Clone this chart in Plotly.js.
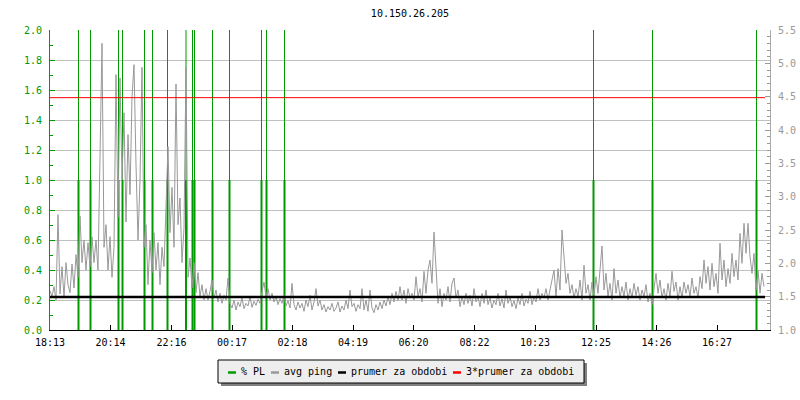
<!DOCTYPE html>
<html><head><meta charset="utf-8">
<script src="https://cdn.plot.ly/plotly-3.0.1.min.js"></script>
<style>html,body{margin:0;padding:0;background:#fff}#chart{width:800px;height:400px}</style>
</head><body><div id="chart"></div>
<script>
const chartTitle = '10.150.26.205';
const seriesNames = ['% PL', 'avg ping', 'prumer za obdobi', '3*prumer za obdobi'];
const seriesColors = ['#009900', '#999999', '#000000', '#ff0000'];
const tickLabels = ['18:13','20:14','22:16','00:17','02:18','04:19','06:20','08:22','10:23','12:25','14:26','16:27'];
const startTime = Date.UTC(2024, 0, 1, 18, 13);
const rangeMinutes = 1440;
const dataMinutes = 1430;
const pingStepMinutes = 4;
const pingValues = [
1.59,1.50,1.65,1.45,2.73,1.54,1.95,1.50,2.01,1.68,
1.56,1.99,1.63,2.13,1.79,2.71,2.01,2.35,1.90,2.31,
1.95,2.40,2.01,2.35,1.90,3.88,5.30,2.24,2.58,1.90,
2.40,1.79,2.24,4.83,2.69,4.78,3.25,4.26,2.62,3.93,
3.03,4.49,4.98,3.48,2.35,3.25,4.94,2.24,2.58,1.68,
2.35,1.86,2.46,1.90,2.31,1.68,2.24,1.95,3.03,3.75,
2.46,3.14,2.24,4.69,2.58,2.98,2.01,2.53,4.94,1.79,
2.08,1.63,2.01,1.56,1.86,1.50,1.68,1.45,1.62,1.45,
1.58,1.75,1.48,1.60,1.42,1.55,1.40,1.52,1.45,1.78,
1.40,1.33,1.45,1.30,1.42,1.35,1.48,1.32,1.40,1.36,
1.50,1.34,1.43,1.37,1.46,1.40,1.58,1.72,1.50,1.62,
1.45,1.55,1.42,1.50,1.38,1.47,1.40,1.52,1.36,1.44,
1.33,1.70,1.38,1.30,1.42,1.33,1.40,1.28,1.45,1.35,
1.52,1.30,1.42,1.62,1.36,1.45,1.30,1.38,1.27,1.35,
1.30,1.40,1.28,1.33,1.42,1.27,1.36,1.30,1.45,1.32,
1.60,1.35,1.40,1.28,1.38,1.32,1.62,1.30,1.45,1.28,
1.60,1.33,1.26,1.38,1.30,1.42,1.32,1.45,1.36,1.50,
1.38,1.55,1.42,1.58,1.44,1.65,1.45,1.60,1.40,1.62,
1.48,1.55,1.45,1.80,1.50,1.62,1.42,1.88,1.55,1.90,
2.05,1.70,2.47,1.95,1.40,1.62,1.35,1.55,1.45,1.65,
1.42,1.70,1.78,1.48,1.60,1.35,1.50,1.38,1.55,1.40,
1.52,1.36,1.62,1.42,1.50,1.35,1.55,1.40,1.60,1.38,
1.48,1.33,1.45,1.38,1.55,1.36,1.47,1.33,1.60,1.40,
1.50,1.35,1.44,1.32,1.48,1.38,1.55,1.36,1.46,1.40,
1.58,1.38,1.50,1.42,1.62,1.45,1.55,1.48,1.62,1.45,
1.58,1.75,1.90,1.50,1.92,1.60,2.50,2.10,1.70,1.85,
1.55,1.68,1.48,1.62,1.50,1.75,1.45,1.97,1.55,1.68,
1.45,1.72,1.50,1.80,1.55,1.90,2.26,1.60,1.85,1.50,
1.70,1.45,1.92,1.55,1.75,1.48,1.65,1.50,1.72,1.45,
1.62,1.48,1.70,1.52,1.65,1.45,1.60,1.50,1.68,1.42,
1.55,1.38,1.65,1.85,1.55,1.75,1.48,1.62,1.45,1.70,
1.50,1.88,1.58,1.72,1.45,1.65,1.48,1.72,1.55,1.68,
1.50,1.78,1.55,1.65,1.48,1.80,1.62,2.05,1.70,1.95,
1.60,2.00,1.65,1.85,1.55,2.30,1.75,2.05,1.65,1.92,
1.70,2.15,1.80,2.05,1.75,2.45,2.00,2.60,2.15,2.60,
2.10,1.85,2.15,1.60,1.90,1.55,1.85,1.65
];
const plTimes = ['19:10','19:34','20:30','20:38','21:22','21:38','22:08','22:45','22:58','23:02','23:38','00:12','01:16','01:26','02:02','12:20','14:18','17:46'];
const plLow  = [1,1,1,1,1,1,1,1,1,1,1,1,1,1,1,1,1,1];
const plHigh = [5,4,6,8,3,7,6,4,3,5,4,3,4,3,5,3,3,4];
const prumer = 1.495;
const leftRange = [0, 2];
const rightRange = [1, 5.5];

const MIN = 60000;
function clockToMs(label, prevMs) {
  const [h, m] = label.split(':').map(Number);
  let t = Date.UTC(2024, 0, 1, h, m);
  while (t < startTime || (prevMs !== undefined && t < prevMs)) t += 1440 * MIN;
  return t;
}
const tickVals = [];
tickLabels.forEach((l, i) => tickVals.push(clockToMs(l, tickVals[i - 1])));
const plMs = [];
plTimes.forEach((l, i) => plMs.push(clockToMs(l, plMs[i - 1])));

const pingX = pingValues.map((_, i) => startTime + i * pingStepMinutes * MIN);
const endData = startTime + dataMinutes * MIN;

function segs(times, vals) {
  const x = [], y = [];
  times.forEach((t, i) => { x.push(t, t, null); y.push(0, vals[i], null); });
  return {x, y};
}
const thin = segs(plMs, plHigh), thick = segs(plMs, plLow);

const traces = [
  {type:'scatter', mode:'lines', name:seriesNames[0], x:thin.x, y:thin.y, yaxis:'y', line:{color:seriesColors[0], width:1}, hoverinfo:'skip'},
  {type:'scatter', mode:'lines', name:seriesNames[0], x:thick.x, y:thick.y, yaxis:'y', line:{color:seriesColors[0], width:2}, hoverinfo:'skip'},
  {type:'scatter', mode:'lines', name:seriesNames[1], x:pingX, y:pingValues, yaxis:'y2', line:{color:seriesColors[1], width:1}},
  {type:'scatter', mode:'lines', name:seriesNames[2], x:[startTime, endData], y:[prumer, prumer], yaxis:'y2', line:{color:seriesColors[2], width:2.5}},
  {type:'scatter', mode:'lines', name:seriesNames[3], x:[startTime, endData], y:[3*prumer, 3*prumer], yaxis:'y2', line:{color:seriesColors[3], width:1}}
];

const W = 800, H = 400, ML = 50, MR = 30, MT = 30, MB = 70;
const pw = W - ML - MR, ph = H - MT - MB;
const px = p => (p - ML) / pw;
const py = p => (H - MB - p) / ph;
const mono = 'DejaVu Sans Mono, monospace';
const green = '#009900';

// custom legend
const charW = 6, dashW = 8, dashGap = 5, itemGap = 6, pad = 10;
const totalW = pad * 2 + seriesNames.reduce((s, n) => s + dashW + dashGap + n.length * charW, 0) + itemGap * (seriesNames.length - 1);
const lx0 = W / 2 - totalW / 2 + 1, lx1 = lx0 + totalW;
const ly0 = 360, ly1 = 383, lyMid = 371.5;
const shapes = [
  {type:'rect', xref:'paper', yref:'paper', x0:px(lx0+3), x1:px(lx1+3), y0:py(ly0+3), y1:py(ly1+3), fillcolor:'#808080', line:{width:0}, layer:'above'},
  {type:'rect', xref:'paper', yref:'paper', x0:px(lx0), x1:px(lx1), y0:py(ly0), y1:py(ly1), fillcolor:'#eeeeee', line:{color:'#000', width:1}, layer:'above'}
];
const annotations = [];
let cx = lx0 + pad;
seriesNames.forEach((n, i) => {
  shapes.push({type:'line', xref:'paper', yref:'paper', x0:px(cx), x1:px(cx+dashW), y0:py(lyMid+1), y1:py(lyMid+1), line:{color:seriesColors[i], width:2.5}, layer:'above'});
  cx += dashW + dashGap;
  annotations.push({xref:'paper', yref:'paper', x:px(cx-2), y:py(lyMid), xanchor:'left', yanchor:'middle', showarrow:false, text:n, font:{family:mono, size:10, color:'#000'}});
  cx += n.length * charW + itemGap;
});

const layout = {
  width:W, height:H, margin:{l:ML, r:MR, t:MT, b:MB, pad:0},
  paper_bgcolor:'#fff', plot_bgcolor:'#fff', showlegend:false,
  font:{family:mono, size:10, color:'#000'},
  title:{text:chartTitle, x:0.5, xref:'paper', xanchor:'center', y:1 - 13/H, yref:'container', yanchor:'middle', font:{family:mono, size:10, color:'#000'}},
  xaxis:{type:'date', range:[startTime, startTime + rangeMinutes*MIN], tickmode:'array', tickvals:tickVals, ticktext:tickLabels,
    ticks:'inside', ticklen:5, tickcolor:'#000', showline:true, linecolor:'#000', linewidth:1, showgrid:false, zeroline:false,
    tickfont:{family:mono, size:10, color:'#000'}, ticklabelstandoff:3, fixedrange:true},
  yaxis:{range:leftRange, tick0:0, dtick:0.2, tickformat:'.1f', ticks:'inside', ticklen:5, tickcolor:green,
    showline:true, linecolor:green, linewidth:1, showgrid:true, gridcolor:'#c0c0c0', gridwidth:1, zeroline:false,
    tickfont:{family:mono, size:10, color:green}, ticklabelstandoff:5,
    minor:{dtick:0.1, tick0:0, ticks:'inside', ticklen:3, tickcolor:green, showgrid:false}, fixedrange:true},
  yaxis2:{overlaying:'y', side:'right', range:rightRange, tick0:1, dtick:0.5, tickformat:'.1f', ticks:'inside', ticklen:5, tickcolor:'#999999',
    showline:true, linecolor:'#aaaaaa', linewidth:1, showgrid:false, zeroline:false,
    tickfont:{family:mono, size:10, color:'#999999'}, ticklabelstandoff:5,
    minor:{dtick:0.1, tick0:1, ticks:'inside', ticklen:3, tickcolor:'#999999', showgrid:false}, fixedrange:true},
  shapes, annotations
};
Plotly.newPlot('chart', traces, layout, {displayModeBar:false, staticPlot:true});
</script>
</body></html>
